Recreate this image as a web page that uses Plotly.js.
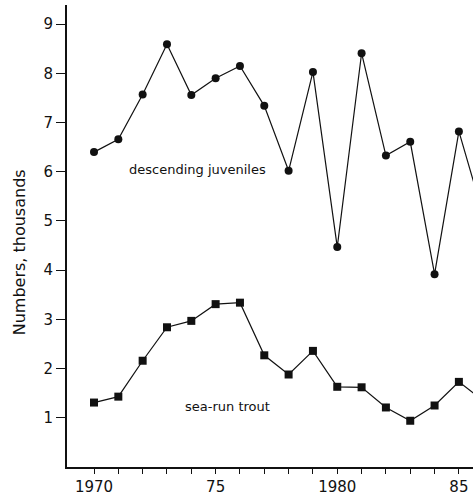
<!DOCTYPE html>
<html>
<head>
<meta charset="utf-8">
<script src="https://cdn.plot.ly/plotly-3.0.1.min.js"></script>
<style>html,body{margin:0;padding:0;background:#fff;}#chart{width:473px;height:497px;}</style>
</head>
<body>
<div id="chart"></div>
<script>
const years = [1970,1971,1972,1973,1974,1975,1976,1977,1978,1979,1980,1981,1982,1983,1984,1985,1986];
const juveniles = [6.40,6.66,7.57,8.59,7.56,7.90,8.15,7.34,6.02,8.03,4.47,8.41,6.33,6.61,3.92,6.82,5.12];
const seaRunTrout = [1.31,1.43,2.16,2.84,2.97,3.31,3.34,2.27,1.88,2.36,1.63,1.62,1.21,0.94,1.25,1.73,1.35];
const xTickVals = [1970,1971,1972,1973,1974,1975,1976,1977,1978,1979,1980,1981,1982,1983,1984,1985];
const xTickText = ["1970","","","","","75","","","","","1980","","","","","85"];
const yTickVals = [1,2,3,4,5,6,7,8,9];
const labels = ["descending juveniles","sea-run trout"];
const yTitle = "Numbers, thousands";

const fam = "DejaVu Sans, Liberation Sans, sans-serif";
const ink = "#111";

const traces = [
  {x:years, y:juveniles, mode:"lines+markers", line:{color:ink,width:1.2},
   marker:{symbol:"circle", size:8, color:ink}, cliponaxis:true},
  {x:years, y:seaRunTrout, mode:"lines+markers", line:{color:ink,width:1.2},
   marker:{symbol:"square", size:8, color:ink}, cliponaxis:true}
];

const layout = {
  width:473, height:497,
  margin:{l:67, r:0, t:5, b:30},
  paper_bgcolor:"#fff", plot_bgcolor:"#fff",
  showlegend:false,
  font:{family:fam, color:ink},
  xaxis:{range:[1968.89,1985.58], tickvals:xTickVals, ticktext:xTickText,
    ticks:"outside", ticklen:5, tickwidth:1, tickcolor:ink,
    showline:true, linecolor:ink, linewidth:2, showgrid:false, zeroline:false,
    tickfont:{size:15, family:fam, color:ink}},
  yaxis:{range:[0,9.39], tickvals:yTickVals, ticks:"outside", ticklen:9, tickwidth:1, tickcolor:ink,
    showline:true, linecolor:ink, linewidth:2, showgrid:false, zeroline:false,
    tickfont:{size:15, family:fam, color:ink}},
  annotations:[
    {x:1974.25, y:6.04, text:labels[0], showarrow:false, font:{size:13, family:fam, color:ink}},
    {x:1975.5, y:1.22, text:labels[1], showarrow:false, font:{size:13, family:fam, color:ink}},
    {xref:"paper", yref:"paper", x:-0.118, y:0.465, xanchor:"center", yanchor:"middle",
     text:yTitle, textangle:-90, showarrow:false, font:{size:16, family:fam, color:ink}}
  ]
};

Plotly.newPlot("chart", traces, layout, {staticPlot:true, displayModeBar:false});
</script>
</body>
</html>
